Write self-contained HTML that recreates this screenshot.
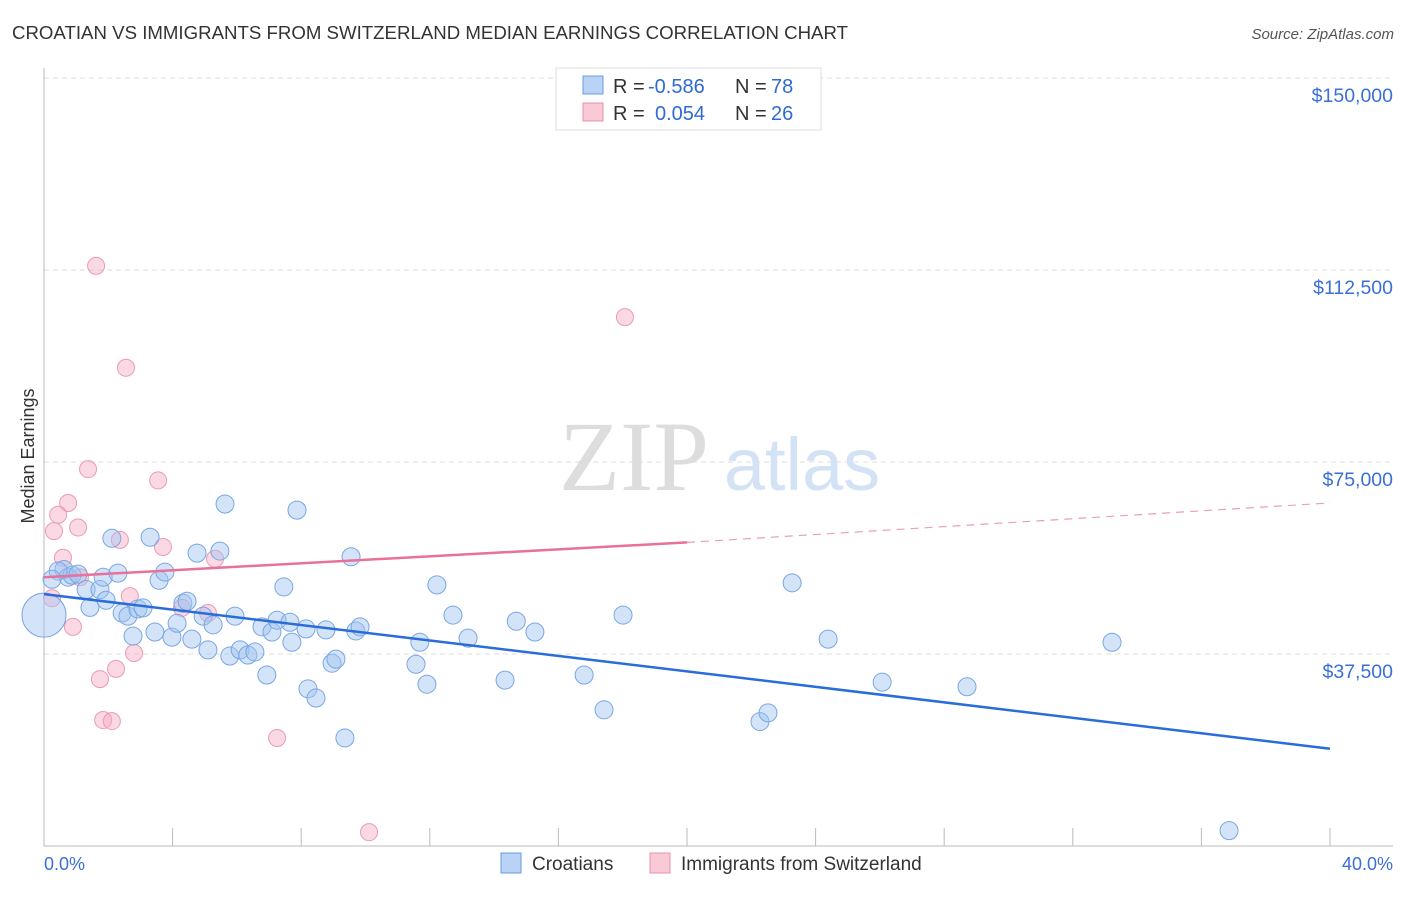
<!DOCTYPE html>
<html><head><meta charset="utf-8"><style>
body{margin:0;background:#fff;font-family:"Liberation Sans",sans-serif;}
</style></head><body>
<svg width="1406" height="892" xmlns="http://www.w3.org/2000/svg" font-family="Liberation Sans, sans-serif">
<text x="12" y="39" font-size="18.5" fill="#333" textLength="836" lengthAdjust="spacingAndGlyphs">CROATIAN VS IMMIGRANTS FROM SWITZERLAND MEDIAN EARNINGS CORRELATION CHART</text>
<text x="1394" y="39" font-size="15" fill="#555" font-style="italic" text-anchor="end">Source: ZipAtlas.com</text>
<g id="grid"></g>
<text x="634" y="490" font-size="100" fill="#ddd" font-family="Liberation Serif, serif" text-anchor="middle">ZIP</text>
<text x="802" y="490" font-size="74" fill="#d4e2f5" text-anchor="middle">atlas</text>
<text transform="translate(34,456) rotate(-90)" font-size="18" fill="#333" text-anchor="middle">Median Earnings</text>
<g id="pts"></g>
<g id="lines"></g>
<g>
<rect x="556" y="68" width="265" height="62" fill="#fff" stroke="#ddd"/>
<rect x="583" y="76" width="20" height="18" fill="#b8d3f5" stroke="#6a9be0"/>
<rect x="583" y="103" width="20" height="18" fill="#f9c9d6" stroke="#e890aa"/>
<text x="613" y="93" font-size="20" fill="#333">R =</text>
<text x="648" y="93" font-size="20" fill="#2f6ad4">-0.586</text>
<text x="735" y="93" font-size="20" fill="#333">N =</text>
<text x="771" y="93" font-size="20" fill="#2f6ad4">78</text>
<text x="613" y="120" font-size="20" fill="#333">R =</text>
<text x="655" y="120" font-size="20" fill="#2f6ad4">0.054</text>
<text x="735" y="120" font-size="20" fill="#333">N =</text>
<text x="771" y="120" font-size="20" fill="#2f6ad4">26</text>
</g>
<text x="44" y="870" font-size="18" fill="#3a6fd8">0.0%</text>
<text x="1393" y="870" font-size="18" fill="#3a6fd8" text-anchor="end">40.0%</text>
<g>
<rect x="501" y="853" width="20" height="20" fill="#b8d3f5" stroke="#6a9be0"/>
<text x="532" y="870" font-size="19" fill="#333">Croatians</text>
<rect x="650" y="853" width="20" height="20" fill="#f9c9d6" stroke="#e890aa"/>
<text x="681" y="870" font-size="19" fill="#333">Immigrants from Switzerland</text>
</g>
</svg>
<script>
const ns="http://www.w3.org/2000/svg";
const yTicks=[37500,75000,112500,150000];
const yTickLabels=["$37,500","$75,000","$112,500","$150,000"];
const blueX=[0.62,0.75,0.87,0.44,0.25,1.06,1.31,1.74,1.84,1.43,1.93,2.11,2.3,2.43,2.61,2.77,2.92,3.08,3.3,3.45,3.58,3.76,3.98,4.14,4.32,4.45,4.6,4.76,4.95,5.1,5.26,5.47,5.63,5.78,5.94,6.1,6.34,6.56,6.78,6.93,7.09,7.25,7.46,7.65,7.71,7.87,8.15,8.21,8.46,8.77,8.96,9.08,9.36,9.55,9.7,9.83,11.57,11.69,11.91,12.22,12.72,13.19,14.34,14.69,15.27,16.8,17.42,18.01,22.27,22.52,23.27,24.39,26.07,28.71,33.22,36.86,0];
const blueY=[54000,52500,52900,53700,52100,53100,50100,50100,52500,46600,48000,60100,53300,45500,44900,41000,46300,46500,60300,41800,51900,53500,40800,43500,47400,47800,40400,57200,44900,38300,43200,57600,66800,37100,44900,38300,37300,37900,42800,33400,41800,44100,50600,43700,39800,65600,42400,30700,28900,42200,35700,36500,21100,56500,42000,42800,35500,39800,31600,51000,45100,40600,32400,43900,41800,33400,26600,45100,24300,26000,51400,40400,32000,31100,39800,3000,45100];
const blueR=[9,9,9,9,9,9,9,9,9,9,9,9,9,9,9,9,9,9,9,9,9,9,9,9,9,9,9,9,9,9,9,9,9,9,9,9,9,9,9,9,9,9,9,9,9,9,9,9,9,9,9,9,9,9,9,9,9,9,9,9,9,9,9,9,9,9,9,9,9,9,9,9,9,9,9,9,22];
const pinkX=[1.62,18.07,2.55,1.37,3.55,0.75,0.44,1.06,0.31,2.36,3.7,0.59,5.32,1.12,0.25,2.67,4.29,5.1,0.9,2.8,2.24,1.74,1.84,2.11,7.25,10.11];
const pinkY=[113300,103300,93400,73600,71400,67000,64700,62200,61500,59800,58400,56300,56100,52500,48400,48800,46500,45500,42800,37700,34600,32600,24600,24400,21100,2700];
const blueLine=[[0,49200],[40,19000]];
const pinkLine=[[0,52500],[20,59300],[40,67000]];
const X=v=>44+v*32.15, Y=v=>846-v*(192/37500);
const g=document.getElementById('grid');
yTicks.forEach((t,i)=>{
 const l=document.createElementNS(ns,'line');
 
 
 l.setAttribute('x1',44);l.setAttribute('x2',1393);l.setAttribute('y1',Y(t));l.setAttribute('y2',Y(t));
 l.setAttribute('stroke','#ddd');l.setAttribute('stroke-dasharray','5,4');g.appendChild(l);
 const tx=document.createElementNS(ns,'text');
 
 
 tx.setAttribute('x',1393);tx.setAttribute('y',Y(t)+24);tx.setAttribute('text-anchor','end');
 tx.setAttribute('font-size','19.5');tx.setAttribute('fill','#3a6fd8');tx.textContent=yTickLabels[i];g.appendChild(tx);
});
const ax=document.createElementNS(ns,'path');


let d='M44,68V846H1393';
for(let i=1;i<=10;i++){d+=`M${X(i*4)},828V846`;}
ax.setAttribute('d',d);ax.setAttribute('stroke','#bbb');ax.setAttribute('fill','none');g.appendChild(ax);
const p=document.getElementById('pts');
pinkX.forEach((x,i)=>{
 const c=document.createElementNS(ns,'circle');
 
 
 c.setAttribute('cx',X(x));c.setAttribute('cy',Y(pinkY[i]));c.setAttribute('r',8.5);
 c.setAttribute('fill','rgba(245,170,195,0.45)');c.setAttribute('stroke','#ec9ab3');p.appendChild(c);
});
blueX.forEach((x,i)=>{
 const c=document.createElementNS(ns,'circle');
 
 
 c.setAttribute('cx',X(x));c.setAttribute('cy',Y(blueY[i]));c.setAttribute('r',blueR[i]);
 c.setAttribute('fill','rgba(160,195,240,0.45)');c.setAttribute('stroke','#7aa6e3');p.appendChild(c);
});
const L=document.getElementById('lines');
function ln(a,b,col,dash,w,name){
 const l=document.createElementNS(ns,'line');
 
 
 l.setAttribute('x1',X(a[0]));l.setAttribute('y1',Y(a[1]));l.setAttribute('x2',X(b[0]));l.setAttribute('y2',Y(b[1]));
 l.setAttribute('stroke',col);l.setAttribute('stroke-width',w);if(dash)l.setAttribute('stroke-dasharray',dash);L.appendChild(l);
}
ln(blueLine[0],blueLine[1],'#2a6dd8',null,2.5,'trend-croatians');
ln(pinkLine[0],pinkLine[1],'#e8709a',null,2.5,'trend-switzerland');
ln(pinkLine[1],pinkLine[2],'#e8a0b8','8,6',1.2,'trend-switzerland-extrapolated');
</script>
</body></html>
